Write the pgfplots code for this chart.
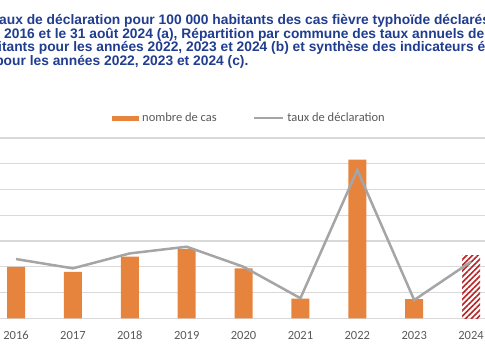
\documentclass[border=0pt]{standalone}
\usepackage{fontspec}
\setmainfont{Carlito}
\newfontfamily\titlefont{Liberation Sans}
\usepackage{pgfplots}
\pgfplotsset{compat=1.18}
\usetikzlibrary{patterns.meta}
\definecolor{barorange}{RGB}{230,132,62}
\definecolor{linegray}{RGB}{165,165,165}
\definecolor{hatchred}{RGB}{185,35,35}
\definecolor{gridgray}{RGB}{217,217,217}
\definecolor{labelgray}{RGB}{89,89,89}
\definecolor{titleblue}{RGB}{32,61,143}
\begin{document}
\begin{tikzpicture}
\useasboundingbox (0,0) rectangle (485bp,360bp);
\clip (0,0) rectangle (485bp,360bp);
\begin{scope}[every node/.style={anchor=base west, inner sep=0pt, text=titleblue, font=\titlefont\bfseries\fontsize{13.8bp}{13.7bp}\selectfont}]
\node at (-1bp,335bp) {\llap{T}aux de déclaration pour 100 000 habitants des cas fièvre typhoïde déclarés à Mayotte};
\node at (4bp,321.5bp) {\llap{janvier }2016 et le 31 août 2024 (a), Répartition par commune des taux annuels de déclaration};
\node at (-2bp,308bp) {\llap{hab}itants pour les années 2022, 2023 et 2024 (b) et synthèse des indicateurs épidémiologiques};
\node at (3.5bp,294.5bp) {\llap{p}our les années 2022, 2023 et 2024 (c).};
\end{scope}
\begin{axis}[
  at={(-12.4bp,41.7bp)}, anchor=south west,
  scale only axis, width=511.9bp, height=180.25bp,
  xmin=-0.5, xmax=8.5, ymin=0, ymax=35,
  axis line style={draw=none},
  ytick={0,5,...,35}, yticklabels={},
  ymajorgrids, grid style={gridgray, line width=1.2bp},
  xtick={0,...,8},
  xticklabels={2016,2017,2018,2019,2020,2021,2022,2023,2024},
  major tick length=0pt,
  xticklabel style={anchor=base, yshift=-21bp, text=labelgray, font=\fontsize{12.5bp}{15bp}\selectfont},
  clip=false,
  legend columns=2,
  legend style={at={(0.2430,1.1112)}, anchor=west, draw=none, fill=none,
    inner sep=0pt, nodes={inner sep=0pt, text=labelgray, font=\fontsize{12.5bp}{15bp}\selectfont},
    /tikz/every odd column/.append style={column sep=3bp},
    /tikz/every even column/.append style={column sep=36bp}},
]
\addplot[ybar, bar width=18bp, bar shift=0pt, fill=barorange, draw=none,
  legend image code/.code={\fill[barorange] (0bp,-2.5bp) rectangle (27bp,2.5bp);}]
  coordinates {(0,10) (1,9) (2,12) (3,13.5) (4,9.7) (5,3.8) (6,30.8) (7,3.7)};
\addlegendentry{nombre de cas}
\addplot[ybar, bar width=18bp, bar shift=0pt, draw=none, forget plot,
  pattern={Lines[angle=45,distance=4bp,line width=1.6bp]}, pattern color=hatchred]
  coordinates {(8,12.1)};
\addplot[linegray, line width=2.5bp, mark=none,
  legend image code/.code={\draw[linegray, line width=2.5bp] (0bp,0bp) -- (29bp,0bp);}]
  coordinates {(0,11.5) (1,9.7) (2,12.6) (3,13.9) (4,10) (5,3.9) (6,28.8) (7,3.55) (8,11)};
\addlegendentry{taux de déclaration}
\end{axis}
\end{tikzpicture}
\end{document}
